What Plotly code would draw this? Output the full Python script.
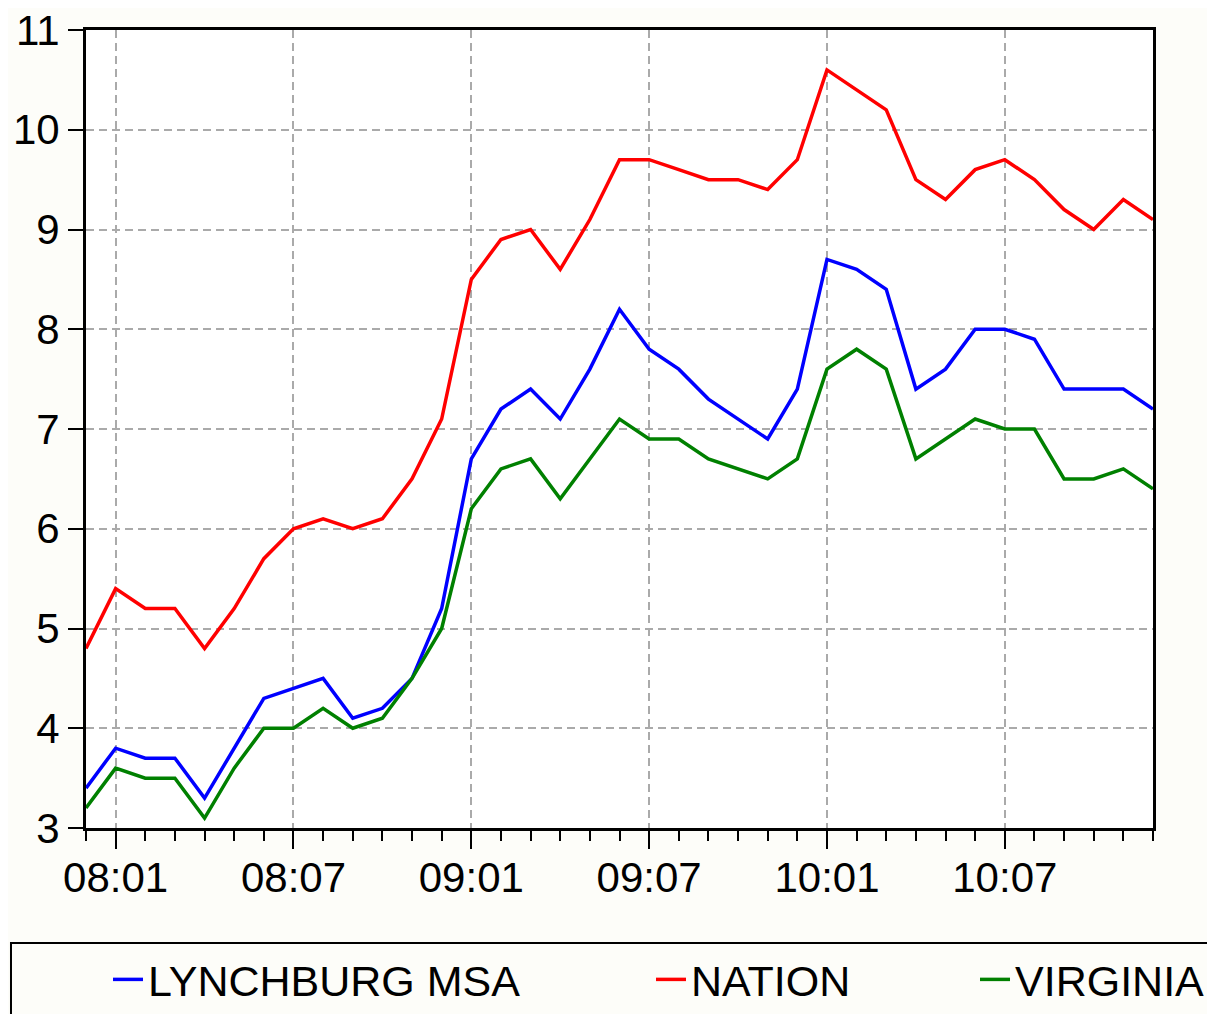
import pandas as pd
import plotly.graph_objects as go

# Monthly periods 2007:12 .. 2010:12
months = [str(p) for p in pd.period_range("2007-12", "2010-12", freq="M")]

lynchburg = [3.4, 3.8, 3.7, 3.7, 3.3, 3.8, 4.3, 4.4, 4.5, 4.1, 4.2, 4.5, 5.2,
             6.7, 7.2, 7.4, 7.1, 7.6, 8.2, 7.8, 7.6, 7.3, 7.1, 6.9, 7.4,
             8.7, 8.6, 8.4, 7.4, 7.6, 8.0, 8.0, 7.9, 7.4, 7.4, 7.4, 7.2]
nation = [4.8, 5.4, 5.2, 5.2, 4.8, 5.2, 5.7, 6.0, 6.1, 6.0, 6.1, 6.5, 7.1,
          8.5, 8.9, 9.0, 8.6, 9.1, 9.7, 9.7, 9.6, 9.5, 9.5, 9.4, 9.7,
          10.6, 10.4, 10.2, 9.5, 9.3, 9.6, 9.7, 9.5, 9.2, 9.0, 9.3, 9.1]
virginia = [3.2, 3.6, 3.5, 3.5, 3.1, 3.6, 4.0, 4.0, 4.2, 4.0, 4.1, 4.5, 5.0,
            6.2, 6.6, 6.7, 6.3, 6.7, 7.1, 6.9, 6.9, 6.7, 6.6, 6.5, 6.7,
            7.6, 7.8, 7.6, 6.7, 6.9, 7.1, 7.0, 7.0, 6.5, 6.5, 6.6, 6.4]

tick_months = ["2008-01", "2008-07", "2009-01", "2009-07", "2010-01", "2010-07"]
tick_labels = ["08:01", "08:07", "09:01", "09:07", "10:01", "10:07"]

series = [("LYNCHBURG MSA", lynchburg, "#0000ff", "legend"),
          ("NATION", nation, "#ff0000", "legend2"),
          ("VIRGINIA", virginia, "#008000", "legend3")]

x = list(range(len(months)))
tickvals = [months.index(m) for m in tick_months]

fig = go.Figure()
for name, vals, col, leg in series:
    fig.add_trace(go.Scatter(x=x, y=vals, mode="lines", name=name,
                             line=dict(color=col, width=3.5),
                             legend=leg,
                             customdata=months,
                             hovertemplate="%{customdata}: %{y}<extra>" + name + "</extra>"))

font = "Arial, Liberation Sans, sans-serif"
leg_common = dict(orientation="h", xref="container", yref="container",
                  xanchor="left", yanchor="top", y=0.076,
                  bgcolor="rgba(0,0,0,0)", borderwidth=0,
                  font=dict(family=font, size=43, color="#000000"))
fig.update_layout(
    width=1215, height=1014,
    margin=dict(l=78, r=70, t=22, b=194, autoexpand=False),
    paper_bgcolor="#fdfdf9",
    plot_bgcolor="#ffffff",
    font=dict(family=font, size=42, color="#000000"),
    showlegend=True,
    legend=dict(x=0.0823, **leg_common),
    legend2=dict(x=0.5292, **leg_common),
    legend3=dict(x=0.7959, **leg_common),
)
# legend frame (extends past the visible page, as in the original)
fig.add_shape(type="rect", xref="paper", yref="paper",
              x0=-0.0703, x1=1.2, y0=-0.1441, y1=-0.32,
              line=dict(color="#000000", width=2), fillcolor="rgba(0,0,0,0)",
              layer="above")

fig.update_xaxes(
    range=[0, len(months) - 1], automargin=False, ticklabeloverflow="allow",
    tickmode="array", tickvals=tickvals, ticktext=tick_labels,
    ticks="outside", ticklen=18, tickwidth=2, tickcolor="#000000",
    ticklabelstandoff=-7,
    minor=dict(tickmode="linear", tick0=0, dtick=1, ticks="outside", ticklen=10,
               tickwidth=2, tickcolor="#000000", showgrid=False),
    showgrid=True, gridcolor="#aaaaaa", gridwidth=2, griddash="8px,5px",
    showline=True, linecolor="#000000", linewidth=3, mirror=True,
    zeroline=False, tickfont=dict(size=42),
)
fig.update_yaxes(
    range=[3, 11], automargin=False, ticklabeloverflow="allow",
    tickmode="linear", tick0=3, dtick=1,
    ticks="outside", ticklen=15, tickwidth=1.5, tickcolor="#000000",
    showgrid=True, gridcolor="#aaaaaa", gridwidth=2, griddash="8px,5px",
    showline=True, linecolor="#000000", linewidth=3, mirror=True,
    zeroline=False, tickfont=dict(size=42),
)

fig.write_html("out.html")
